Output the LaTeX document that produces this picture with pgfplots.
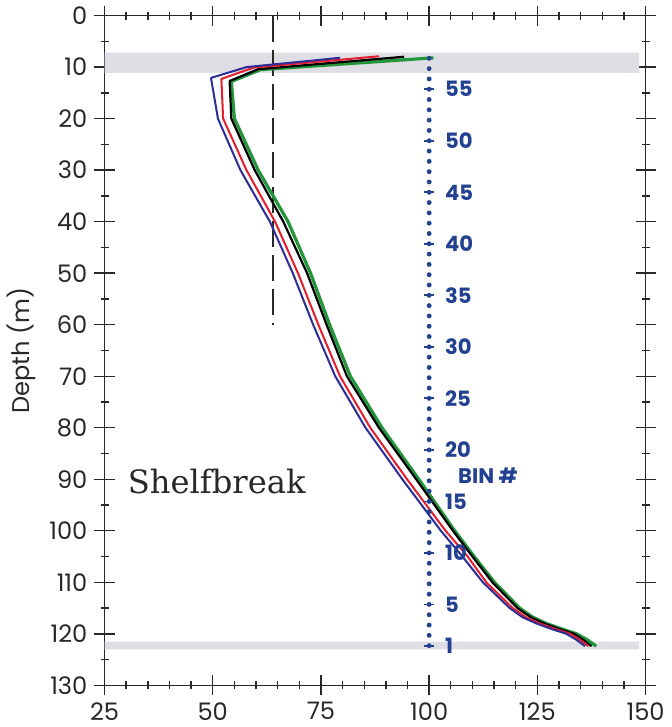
\documentclass[border=0pt]{standalone}
\usepackage{fontspec}
\setmainfont{Poppins}
\newfontfamily\seriffont{DejaVu Serif}
\usepackage{pgfplots}
\pgfplotsset{compat=1.18}
\definecolor{axgray}{RGB}{40,40,40}
\definecolor{bandgray}{RGB}{222,222,228}
\definecolor{binc}{RGB}{35,65,145}
\definecolor{cblue}{RGB}{45,45,150}
\definecolor{cred}{RGB}{228,30,45}
\definecolor{cgreen}{RGB}{35,150,60}
\begin{document}
\begin{tikzpicture}
\begin{axis}[
  scale only axis, width=269pt, height=333pt,
  xmin=25, xmax=150, ymin=0, ymax=130, y dir=reverse,
  xtick={25,50,...,150}, minor x tick num=4,
  ytick={0,10,...,130}, minor y tick num=1,
  tick align=center, major tick length=10pt, minor tick length=4pt,
  tick pos=both,
  axis line style={axgray, line width=0.8pt},
  every tick/.style={axgray, line width=0.7pt},
  tick label style={font=\fontsize{12}{12}\selectfont, text=axgray},
  /pgf/number format/assume math mode=true,
  ylabel={Depth (m)},
  ylabel style={font=\fontsize{12}{12}\selectfont, text=axgray},
  every axis plot/.append style={line join=round},
]
% gray bands
\addplot[fill=bandgray, draw=none] coordinates {(25,7.2) (148.5,7.2) (148.5,11.1) (25,11.1) (25,7.2)};
\addplot[fill=bandgray, draw=none] coordinates {(25,121.5) (148.5,121.5) (148.5,123.0) (25,123.0) (25,121.5)};
% dashed line
\addplot[axgray, line width=0.9pt, dash pattern=on 13pt off 4pt] coordinates {(64,0) (64,60)};
% bin dots
\addplot[binc, only marks, mark=*, mark size=1pt] coordinates {
(100,122.3)(100,120.3)(100,118.3)(100,116.3)(100,114.3)(100,112.3)(100,110.3)(100,108.3)(100,106.3)(100,104.3)
(100,102.3)(100,100.3)(100,98.3)(100,96.3)(100,94.3)(100,92.3)(100,90.3)(100,88.3)(100,86.3)(100,84.3)
(100,82.3)(100,80.3)(100,78.3)(100,76.3)(100,74.3)(100,72.3)(100,70.3)(100,68.3)(100,66.3)(100,64.3)
(100,62.3)(100,60.3)(100,58.3)(100,56.3)(100,54.3)(100,52.3)(100,50.3)(100,48.3)(100,46.3)(100,44.3)
(100,42.3)(100,40.3)(100,38.3)(100,36.3)(100,34.3)(100,32.3)(100,30.3)(100,28.3)(100,26.3)(100,24.3)
(100,22.3)(100,20.3)(100,18.3)(100,16.3)(100,14.3)(100,12.3)(100,10.3)(100,8.3)};
\addplot[binc, only marks, mark=-, mark size=2.5pt, mark options={line width=0.9pt}] coordinates {
(100,122.3)(100,114.3)(100,104.3)(100,94.3)(100,84.3)(100,74.3)(100,64.3)(100,54.3)(100,44.3)(100,34.3)(100,24.3)(100,14.3)};
% curves
\addplot[cgreen, line width=1.6pt] coordinates {
(101,8.2) (61,10.5) (54.3,12.8) (55.0,20) (60.5,30) (67.4,40) (72.6,50) (77.0,60) (81.8,70) (89.1,80) (97.6,90) (105.9,100) (110.4,105) (115.1,110) (120.9,115) (124.0,116.8) (127.1,118) (130.8,119.1) (134.1,120) (136.6,121.2) (138.6,122.4)};
\addplot[black, line width=1.1pt] coordinates {
(94.2,8.0) (60.5,10.4) (53.9,12.7) (54.3,20) (59.7,30) (66.3,40) (71.8,50) (76.3,60) (81.0,70) (88.4,80) (97.0,90) (105.5,100) (110.0,105) (114.6,110) (120.4,115) (123.5,116.8) (126.6,118) (130.2,119.1) (133.5,120) (135.7,121.2) (137.5,122.4)};
\addplot[cred, line width=1pt] coordinates {
(88.4,7.9) (59.4,10.1) (52.0,12.3) (52.4,20) (57.8,30) (64.4,40) (69.7,50) (74.4,60) (79.4,70) (86.4,80) (94.9,90) (103.8,100) (108.9,105) (113.2,110) (119.3,115) (122.4,116.8) (125.6,118) (129.3,119.1) (132.6,120) (134.9,121.2) (136.8,122.4)};
\addplot[cblue, line width=1pt] coordinates {
(79.4,8.2) (57.8,10.0) (49.6,12.1) (51.2,20) (56.4,30) (63.2,40) (68.5,50) (73.2,60) (78.3,70) (85.3,80) (93.8,90) (102.7,100) (107.7,105) (112.4,110) (118.6,115) (121.6,116.8) (124.8,118) (128.4,119.1) (131.7,120) (134.1,121.2) (136.0,122.4)};
% labels
\begin{scope}[every node/.style={binc, anchor=west, font=\bfseries\fontsize{10.5}{10.5}\selectfont, inner sep=0pt}]
\node at (axis cs:103.6,122.3) {1};
\node at (axis cs:103.6,114.3) {5};
\node at (axis cs:103.6,104.3) {10};
\node at (axis cs:103.6,94.3) {15};
\node at (axis cs:103.6,84.3) {20};
\node at (axis cs:103.6,74.3) {25};
\node at (axis cs:103.6,64.3) {30};
\node at (axis cs:103.6,54.3) {35};
\node at (axis cs:103.6,44.3) {40};
\node at (axis cs:103.6,34.3) {45};
\node at (axis cs:103.6,24.3) {50};
\node at (axis cs:103.6,14.3) {55};
\node at (axis cs:106.6,89.4) {BIN \#};
\end{scope}
\node[anchor=west, inner sep=0pt, text=axgray, font=\seriffont\fontsize{16}{16}\selectfont] at (axis cs:30.3,90.4) {Shelfbreak};
\end{axis}
\end{tikzpicture}
\end{document}
